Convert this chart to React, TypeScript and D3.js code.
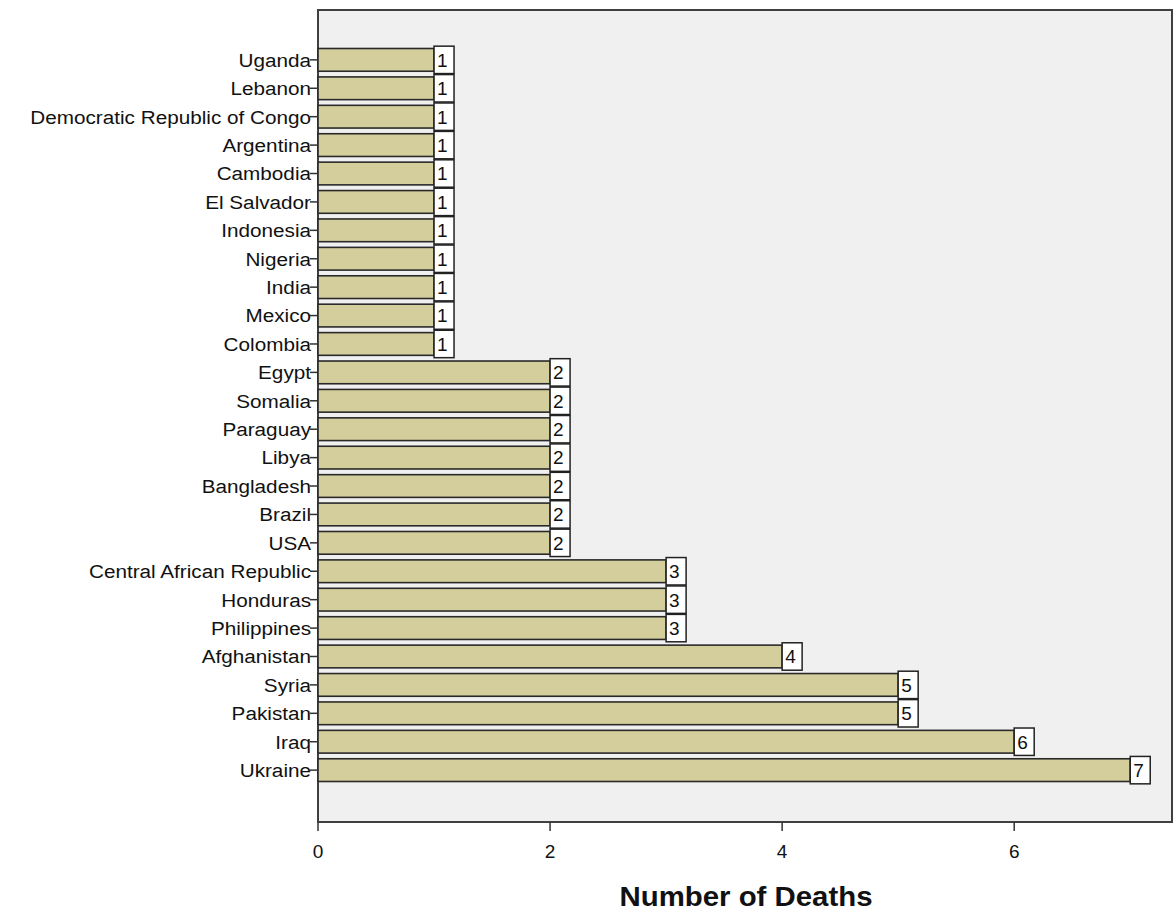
import React from "react";
import * as d3 from "d3";

const countries = [
  "Uganda", "Lebanon", "Democratic Republic of Congo", "Argentina", "Cambodia",
  "El Salvador", "Indonesia", "Nigeria", "India", "Mexico", "Colombia",
  "Egypt", "Somalia", "Paraguay", "Libya", "Bangladesh", "Brazil", "USA",
  "Central African Republic", "Honduras", "Philippines", "Afghanistan",
  "Syria", "Pakistan", "Iraq", "Ukraine",
];
const deaths = [1, 1, 1, 1, 1, 1, 1, 1, 1, 1, 1, 2, 2, 2, 2, 2, 2, 2, 3, 3, 3, 4, 5, 5, 6, 7];
const xTicks = [0, 2, 4, 6];
const xTitle = "Number of Deaths";

const W = 1176, H = 916;
const L = 318, R = 1172, T = 10, B = 822;

export default function App() {
  const x = d3.scaleLinear().domain([0, 7.36]).range([L, R]);
  const y = d3.scaleBand<string>().domain(countries).range([T + 38.5, B - 40.5]).paddingInner(0.2).paddingOuter(0);
  const step = y.step();
  const bw = y.bandwidth();
  const font = "Arial, 'Liberation Sans', sans-serif";
  return (
    <svg width={W} height={H} style={{ position: "absolute", left: 0, top: 0, background: "#fff" }}>
      <rect x={L} y={T} width={R - L} height={B - T} fill="#f0f0f0" stroke="#404040" strokeWidth={2} />
      {countries.map((c, i) => {
        const y0 = y(c)!;
        const xe = x(deaths[i]);
        const cy = y0 + bw / 2;
        return (
          <g key={c}>
            <rect x={L} y={y0} width={xe - L} height={bw} fill="#d3ce9b" stroke="#2a2a2a" strokeWidth={1.6} />
            <rect x={xe} y={cy - step / 2 + 0.5} width={20} height={step - 1} fill="#fff" stroke="#222" strokeWidth={1.5} />
            <text x={xe + 3} y={cy} dy="0.36em" fontFamily={font} fontSize={19} fill="#111">{deaths[i]}</text>
            <line x1={L - 8} x2={L} y1={cy} y2={cy} stroke="#333" strokeWidth={1.5} />
            <text transform={`translate(${L - 7},${cy}) scale(1.09,1)`} dy="0.36em" textAnchor="end" fontFamily={font} fontSize={19} fill="#111">{c}</text>
          </g>
        );
      })}
      {xTicks.map((t) => (
        <g key={t}>
          <line x1={x(t)} x2={x(t)} y1={B} y2={B + 9} stroke="#333" strokeWidth={1.5} />
          <text x={x(t)} y={B + 36} textAnchor="middle" fontFamily={font} fontSize={19} fill="#111">{t}</text>
        </g>
      ))}
      <text transform={`translate(746,${B + 84}) scale(1.05,1)`} textAnchor="middle" fontFamily={font} fontSize={28} fontWeight="bold" fill="#111">{xTitle}</text>
    </svg>
  );
}
